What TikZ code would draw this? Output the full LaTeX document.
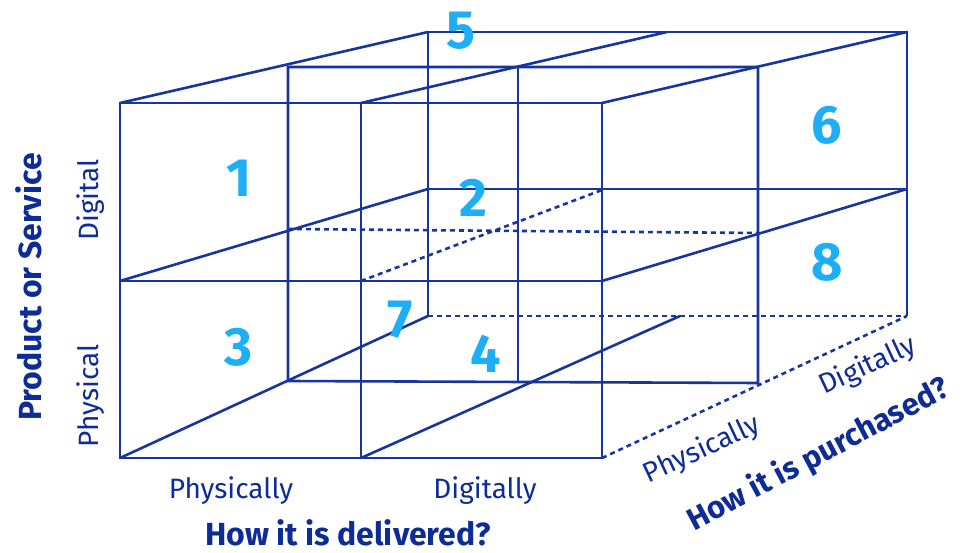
\documentclass[tikz,border=0pt]{standalone}
\usepackage{fontspec}
\setmainfont{Fira Sans}
\definecolor{navy}{RGB}{24,52,158}
\definecolor{textnavy}{RGB}{14,44,150}
\definecolor{sky}{RGB}{30,174,245}
\begin{document}
\begin{tikzpicture}[x=1pt,y=-1pt,
  edge/.style={draw=navy,line width=2.6pt,line join=miter},
  hidden/.style={draw=navy,line width=2.6pt,dash pattern=on 5pt off 4pt},
  num/.style={text=sky,font=\fontsize{54}{54}\selectfont\bfseries,inner sep=0pt},
  lbl/.style={text=textnavy,font=\fontsize{28}{28}\selectfont,inner sep=0pt},
  ttl/.style={text=textnavy,font=\fontsize{32}{32}\selectfont\bfseries,inner sep=0pt}]
\useasboundingbox (0,0) rectangle (962,553);
% front face
\coordinate (F1) at (120,103); \coordinate (F2) at (361,103); \coordinate (F3) at (602,103);
\coordinate (F4) at (120,281); \coordinate (F5) at (361,281); \coordinate (F6) at (602,281);
\coordinate (F7) at (120,458); \coordinate (F8) at (361,458); \coordinate (F9) at (602,458);
% middle depth
\coordinate (M1) at (288,67); \coordinate (M2) at (518,67); \coordinate (M3) at (758,67);
\coordinate (M4) at (288,229); \coordinate (M6) at (758,233);
\coordinate (M7) at (288,381); \coordinate (M8) at (518,383); \coordinate (M9) at (758,383);
% back face
\coordinate (B1) at (428,32); \coordinate (B2) at (667,32); \coordinate (B3) at (907,32);
\coordinate (B4) at (428,189); \coordinate (B6) at (907,189);
\coordinate (B7) at (428,316); \coordinate (B8) at (680,316); \coordinate (B9) at (907,316);
\coordinate (D) at (602,190);
% back
\draw[edge] (B7) -- (B1) -- (B3) -- (B9);
\draw[edge] (B4) -- (B6);
\draw[hidden] (B7) -- (B9);
% middle depth
\draw[edge] (M7) -- (M1) -- (M3) -- (M9) -- cycle;
\draw[edge] (M2) -- (M8);
\draw[hidden] (M4) -- (M6);
% slants
\draw[edge] (F1) -- (B1);
\draw[edge] (F2) -- (B2);
\draw[edge] (F3) -- (B3);
\draw[edge] (F4) -- (B4);
\draw[hidden] (F5) -- (D);
\draw[edge] (F6) -- (B6);
\draw[edge] (F7) -- (B7);
\draw[edge] (F8) -- (B8);
\draw[hidden] (F9) -- (B9);
% front
\draw[edge] (F1) rectangle (F9);
\draw[edge] (F2) -- (F8);
\draw[edge] (F4) -- (F6);
% numbers
\node[num] (n1) at (239,178) {1};
\node[num] (n2) at (473,198) {2};
\node[num] (n3) at (239,347) {3};
\node[num] (n4) at (486,354) {4};
\node[num] (n5) at (461,31) {5};
\node[num] (n6) at (827,125) {6};
\node[num] (n7) at (400,320) {7};
\node[num] (n8) at (827,262) {8};
% labels
\node[lbl,anchor=base] (dp) at (231,498) {Physically};
\node[lbl,anchor=base] (dd) at (485,498) {Digitally};
\node[ttl,anchor=base] (dt) at (348,545) {How it is delivered?};
\node[lbl,anchor=base,rotate=90] (pd) at (98,200) {Digital};
\node[lbl,anchor=base,rotate=90] (pp) at (98,396) {Physical};
\node[ttl,anchor=base,rotate=90] (pt) at (41,287) {Product or Service};
\node[lbl,rotate=25] (up) at (702,450) {Physically};
\node[lbl,rotate=25] (ud) at (868,366) {Digitally};
\node[ttl,rotate=28,font=\fontsize{31}{31}\selectfont\bfseries] (ut) at (819,455) {How it is purchased?};
\end{tikzpicture}
\end{document}
